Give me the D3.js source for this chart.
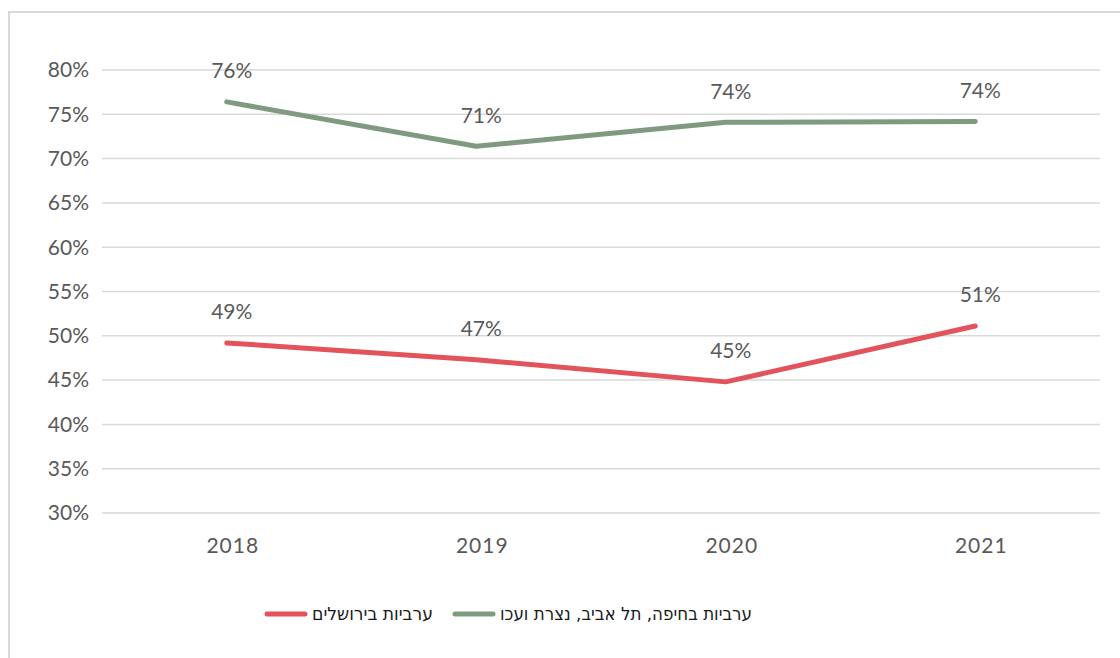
<!DOCTYPE html>
<html>
<head>
<meta charset="utf-8">
<script src="https://cdn.jsdelivr.net/npm/d3@7"></script>
<style>
  body { margin: 0; background: #fff; }
  svg text { font-family: Lato, "Open Sans", sans-serif; }
</style>
</head>
<body>
<div id="chart"></div>
<script>
const years = ["2018", "2019", "2020", "2021"]
const seriesNames = ["ערביות בחיפה, תל אביב, נצרת ועכו", "ערביות בירושלים"]
const northValues = [76.4, 71.4, 74.1, 74.2]
const jerusalemValues = [49.2, 47.3, 44.8, 51.1]
const yTicks = [30, 35, 40, 45, 50, 55, 60, 65, 70, 75, 80]

var width = 1120
var height = 658
const svg = d3.select("#chart").append("svg")
    .attr("width", width)
    .attr("height", height)

// outer frame
svg.append("rect")
    .attr("x", 9).attr("y", 12)
    .attr("width", 1130).attr("height", 660)
    .attr("fill", "none")
    .attr("stroke", "#d9d9d9")
    .attr("stroke-width", 2)

var xScale = d3.scaleBand().domain(years).range([102, 1100])
var yScale = d3.scaleLinear().domain([30, 80]).range([513, 70])
var xc = d => xScale(d) + xScale.bandwidth() / 2

// gridlines
svg.append("g")
    .selectAll("line")
    .data(yTicks)
    .enter()
    .append("line")
    .attr("x1", 102).attr("x2", 1100)
    .attr("y1", d => yScale(d)).attr("y2", d => yScale(d))
    .attr("stroke", "#d9d9d9")
    .attr("stroke-width", 1.5)

// y axis labels
svg.append("g")
    .selectAll("text")
    .data(yTicks)
    .enter()
    .append("text")
    .attr("x", 89)
    .attr("y", d => yScale(d))
    .attr("dy", "0.35em")
    .attr("text-anchor", "end")
    .attr("fill", "#595959")
    .style("font-size", "21px")
    .text(d => d + "%")

// x axis labels
svg.append("g")
    .selectAll("text")
    .data(years)
    .enter()
    .append("text")
    .attr("x", d => xc(d) + 6)
    .attr("y", 546)
    .attr("dy", "0.35em")
    .attr("text-anchor", "middle")
    .attr("fill", "#595959")
    .style("font-size", "21px")
    .style("letter-spacing", "1px")
    .text(d => d)

var series = [
    { name: seriesNames[0], values: northValues, color: "#7f9a7e" },
    { name: seriesNames[1], values: jerusalemValues, color: "#e2535b" }
]

var line = d3.line()
    .x((d, i) => xc(years[i]))
    .y(d => yScale(d))

series.forEach(s => {
    svg.append("path")
        .datum(s.values)
        .attr("d", line)
        .attr("fill", "none")
        .attr("stroke", s.color)
        .attr("stroke-width", 5)
        .attr("stroke-linecap", "round")
        .attr("stroke-linejoin", "round")

    svg.append("g")
        .selectAll("text")
        .data(s.values)
        .enter()
        .append("text")
        .attr("x", (d, i) => xc(years[i]) + 5)
        .attr("y", d => yScale(d) - 31)
        .attr("dy", "0.35em")
        .attr("text-anchor", "middle")
        .attr("fill", "#595959")
        .style("font-size", "21px")
        .text(d => Math.round(d) + "%")
})

// legend
var legendItems = [
    { name: seriesNames[1], color: "#e2535b", x: 267, w: 121 },
    { name: seriesNames[0], color: "#7f9a7e", x: 455, w: 252 }
]
var legend = svg.append("g")
legendItems.forEach(item => {
    legend.append("line")
        .attr("x1", item.x).attr("x2", item.x + 38)
        .attr("y1", 614).attr("y2", 614)
        .attr("stroke", item.color)
        .attr("stroke-width", 5)
        .attr("stroke-linecap", "round")
    legend.append("text")
        .attr("x", item.x + 45)
        .attr("y", 614)
        .attr("dy", "0.35em")
        .attr("text-anchor", "start")
        .attr("textLength", item.w)
        .attr("lengthAdjust", "spacingAndGlyphs")
        .attr("fill", "#1a1a1a")
        .style("font-family", "'DejaVu Sans', sans-serif")
        .style("font-size", "18px")
        .text(item.name)
})
</script>
</body>
</html>
